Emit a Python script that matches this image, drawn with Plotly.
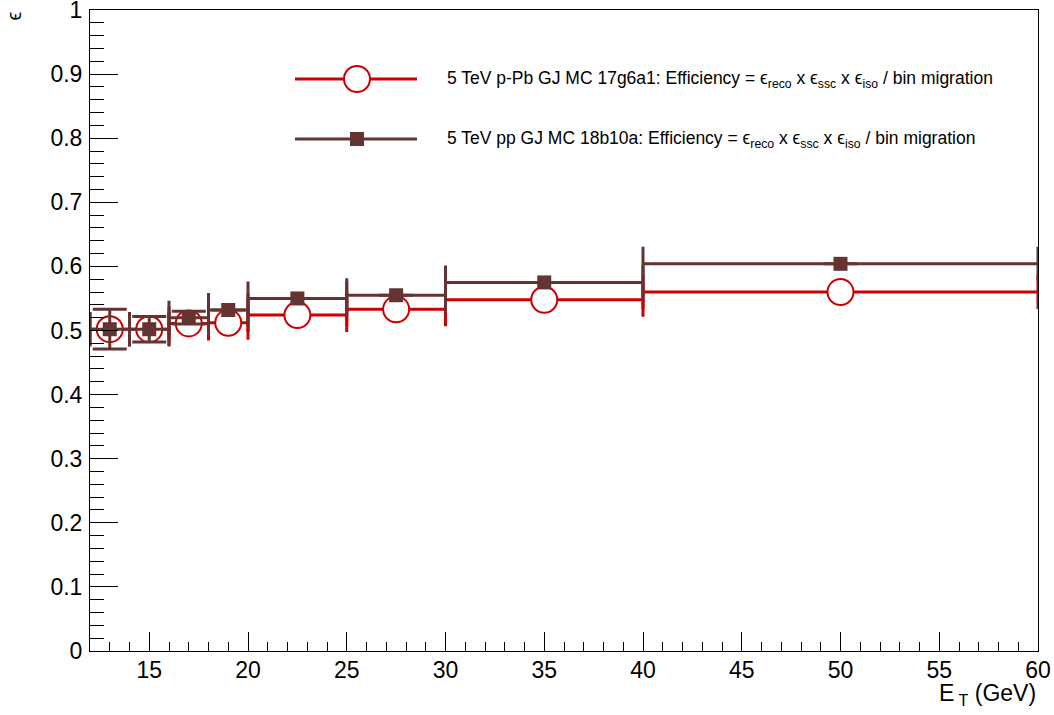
import plotly.graph_objects as go

# ---------------- data ----------------
bin_centers = [13, 15, 17, 19, 22.5, 27.5, 35, 50]
bin_halfwidths = [1, 1, 1, 1, 2.5, 2.5, 5, 10]

ppb_eff = [0.502, 0.502, 0.511, 0.512, 0.524, 0.533, 0.548, 0.560]

pp_eff = [0.502, 0.502, 0.520, 0.532, 0.550, 0.555, 0.575, 0.604]
pp_err = [0.031, 0.020, 0.010, 0.0, 0.0, 0.0, 0.0, 0.0]

x_tickvals = [15, 20, 25, 30, 35, 40, 45, 50, 55, 60]
y_tickvals = [0, 0.1, 0.2, 0.3, 0.4, 0.5, 0.6, 0.7, 0.8, 0.9, 1]
y_ticktext = ["0", "0.1", "0.2", "0.3", "0.4", "0.5", "0.6", "0.7", "0.8", "0.9", "1"]

series_names = [
    "5 TeV p-Pb GJ MC 17g6a1: Efficiency = ϵ<sub>reco</sub> x ϵ<sub>ssc</sub> x ϵ<sub>iso</sub> / bin migration",
    "5 TeV pp GJ MC 18b10a: Efficiency = ϵ<sub>reco</sub> x ϵ<sub>ssc</sub> x ϵ<sub>iso</sub> / bin migration",
]

RED = "#CC0000"
BROWN = "#663333"
FONT = "Liberation Sans, Arial, Helvetica, sans-serif"

fig = go.Figure()

fig.add_trace(go.Scatter(
    x=bin_centers, y=ppb_eff, mode="markers", name=series_names[0],
    marker=dict(symbol="circle", size=26, color="white",
                line=dict(color=RED, width=2)),
    error_x=dict(type="data", array=bin_halfwidths, symmetric=True,
                 color=RED, thickness=3, width=17),
    showlegend=False,
))

fig.add_trace(go.Scatter(
    x=bin_centers, y=pp_eff, mode="markers", name=series_names[1],
    marker=dict(symbol="square", size=14, color=BROWN,
                line=dict(color=BROWN, width=0)),
    error_x=dict(type="data", array=bin_halfwidths, symmetric=True,
                 color=BROWN, thickness=3, width=17),
    error_y=dict(type="data", array=pp_err, symmetric=True,
                 color=BROWN, thickness=3, width=17),
    showlegend=False,
))

# ---------------- manual ROOT-style legend (overlay pixel axes) ----------------
leg_rows = [79, 139]
leg_line_x = [295, 417]
leg_marker_x = 357
leg_text_x = 445
leg_styles = [
    dict(color=RED, marker=dict(symbol="circle", size=26, color="white", line=dict(color=RED, width=2))),
    dict(color=BROWN, marker=dict(symbol="square", size=14, color=BROWN, line=dict(width=0))),
]
for row_y, sty, name in zip(leg_rows, leg_styles, series_names):
    fig.add_trace(go.Scatter(
        x=leg_line_x, y=[row_y, row_y], mode="lines",
        line=dict(color=sty["color"], width=3),
        xaxis="x2", yaxis="y2", showlegend=False, hoverinfo="skip"))
    fig.add_trace(go.Scatter(
        x=[leg_marker_x], y=[row_y], mode="markers", marker=sty["marker"],
        xaxis="x2", yaxis="y2", showlegend=False, hoverinfo="skip"))
    fig.add_annotation(x=leg_text_x, y=row_y, xref="x2", yref="y2",
                       text=name, showarrow=False, xanchor="left", yanchor="middle",
                       font=dict(family=FONT, size=17.5, color="black"))

# ---------------- axes ----------------
axis_common = dict(showline=True, linecolor="black", linewidth=1, mirror=True,
                   showgrid=False, zeroline=False, ticks="inside",
                   tickcolor="black", tickwidth=1, automargin=False,
                   ticklabeloverflow="allow",
                   tickfont=dict(family=FONT, size=23, color="black"))

fig.update_layout(
    width=1054, height=715,
    margin=dict(l=90, r=16, t=10, b=64, autoexpand=False),
    paper_bgcolor="white", plot_bgcolor="white",
    xaxis=dict(range=[12, 60], tickmode="array", tickvals=x_tickvals, ticklen=19,
               ticklabelstandoff=-2,
               minor=dict(dtick=1, tick0=0, ticks="inside", ticklen=9, tickcolor="black", tickwidth=1),
               **axis_common),
    yaxis=dict(range=[0, 1], tickmode="array", tickvals=y_tickvals, ticktext=y_ticktext,
               ticklen=28, ticklabelstandoff=2,
               minor=dict(dtick=0.02, tick0=0, ticks="inside", ticklen=14, tickcolor="black", tickwidth=1),
               **axis_common),
    xaxis2=dict(range=[90, 1038], overlaying="x", visible=False, fixedrange=True),
    yaxis2=dict(range=[651, 10], overlaying="y", visible=False, fixedrange=True),
    showlegend=False,
)

fig.add_annotation(text="E<sub> T</sub> (GeV)", xref="paper", yref="paper",
                   x=1.0, y=-0.068, xanchor="right", yanchor="middle", showarrow=False,
                   font=dict(family=FONT, size=23, color="black"))
fig.add_annotation(text="ϵ", xref="paper", yref="paper",
                   x=-0.08, y=0.99, xanchor="center", yanchor="middle", showarrow=False,
                   textangle=-90, font=dict(family=FONT, size=20, color="black"))

fig.write_html("out.html",
               config={"displayModeBar": False},
               post_script="document.body.style.margin='0px';document.body.style.padding='0px';")
